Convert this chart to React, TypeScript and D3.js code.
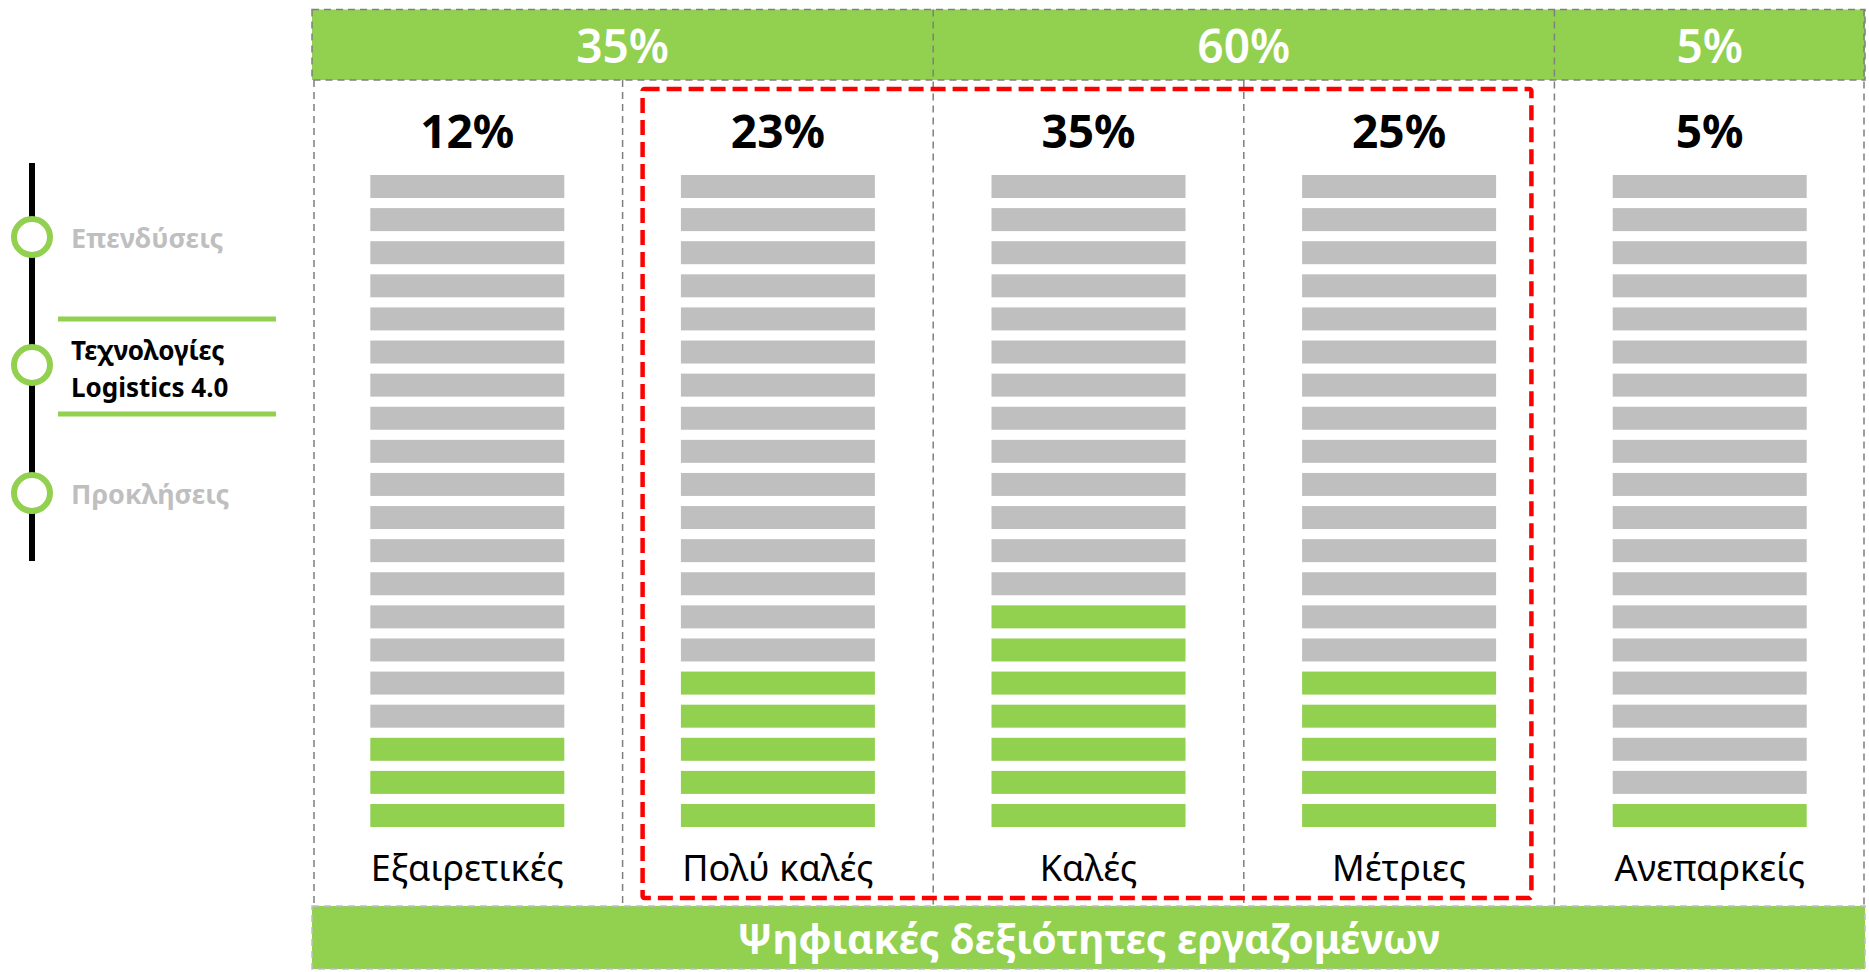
import React from 'react';
import * as d3 from 'd3';

// chart data
const categories = ['Εξαιρετικές', 'Πολύ καλές', 'Καλές', 'Μέτριες', 'Ανεπαρκείς'];
const percentages = [12, 23, 35, 25, 5];
const greenBars = [3, 5, 7, 5, 1];
const totalBars = 20;

const groupLabels = ['35%', '60%', '5%'];
const groupSpans = [2, 2, 1];

const timelineItems = ['Επενδύσεις', 'Τεχνολογίες|Logistics 4.0', 'Προκλήσεις'];
const activeItem = 1;

const bottomTitle = 'Ψηφιακές δεξιότητες εργαζομένων';

const GREEN = '#92D050';
const GREY_BAR = '#BFBFBF';
const DASH_GREY = '#7F7F7F';
const FONT = '"Noto Sans", "Open Sans", sans-serif';

const W = 1869;
const H = 972;

const App = () => {
  const left = 312;
  const right = 1865;
  const topBannerY = 9.5;
  const topBannerH = 70.5;
  const colTop = topBannerY + topBannerH;
  const bottomBannerY = 906;
  const bottomBannerH = 63;

  const x = d3.scaleBand<string>().domain(categories).range([left, right]);
  const bw = x.bandwidth();
  const barW = 194;
  const barH = 23;
  const rows = d3.range(totalBars);
  const y = d3.scaleLinear().domain([0, totalBars - 1]).range([175, 804]);

  // group boundaries from cumulative spans
  const groupStarts = groupSpans.map((_, i) => d3.sum(groupSpans.slice(0, i)));

  const tl = d3.scaleLinear().domain([0, timelineItems.length - 1]).range([237, 493]);

  const redX0 = (x(categories[1]) as number) + 20;
  const redX1 = (x(categories[3]) as number) + bw - 23;

  return (
    <svg
      width={W}
      height={H}
      style={{ position: 'absolute', left: 0, top: 0, background: '#fff' }}
      fontFamily={FONT}
    >
      {/* top banner */}
      <rect x={left} y={topBannerY} width={right - left} height={topBannerH} fill={GREEN}
        stroke={DASH_GREY} strokeWidth={1.5} strokeDasharray="7,5" />
      {groupLabels.map((g, i) => {
        const x0 = x(categories[groupStarts[i]]) as number;
        const x1 = (x(categories[groupStarts[i] + groupSpans[i] - 1]) as number) + bw;
        return (
          <g key={g + i}>
            {i > 0 && (
              <line x1={x0} x2={x0} y1={topBannerY} y2={bottomBannerY} stroke={DASH_GREY}
                strokeWidth={1.5} strokeDasharray="7,5" />
            )}
            <text x={(x0 + x1) / 2} y={63} textAnchor="middle" fill="#fff" fontSize={46}
              fontWeight={600}>{g}</text>
          </g>
        );
      })}

      {/* column separators */}
      {categories.map((c, i) => {
        const cx = x(c) as number;
        if (groupStarts.includes(i) && i > 0) return null;
        return (
          <line key={'sep' + c} x1={cx + (i === 0 ? 2 : 0)} x2={cx + (i === 0 ? 2 : 0)}
            y1={colTop} y2={bottomBannerY} stroke={DASH_GREY}
            strokeWidth={1.5} strokeDasharray="7,5" />
        );
      })}
      <line x1={right - 1} x2={right - 1} y1={topBannerY} y2={bottomBannerY} stroke={DASH_GREY}
        strokeWidth={1.5} strokeDasharray="7,5" />

      {/* columns */}
      {categories.map((c, i) => {
        const cx = (x(c) as number) + bw / 2;
        return (
          <g key={c}>
            <text x={cx} y={148} textAnchor="middle" fontSize={46} fontWeight="bold" fill="#000">
              {percentages[i]}%
            </text>
            {rows.map((r) => (
              <rect key={r} x={cx - barW / 2} y={y(r)} width={barW} height={barH}
                fill={r >= totalBars - greenBars[i] ? GREEN : GREY_BAR} />
            ))}
            <text x={cx} y={881} textAnchor="middle" fontSize={36} fill="#000">{c}</text>
          </g>
        );
      })}

      {/* highlight box */}
      <rect x={redX0} y={89} width={redX1 - redX0} height={898 - 89} fill="none"
        stroke="#FF0000" strokeWidth={4.5} strokeDasharray="15,7" rx={2} />

      {/* bottom banner */}
      <rect x={left} y={bottomBannerY} width={right - left} height={bottomBannerH} fill={GREEN}
        stroke={GREY_BAR} strokeWidth={1.5} strokeDasharray="7,5" />
      <text x={(left + right) / 2} y={954} textAnchor="middle" fill="#fff" fontSize={40.5}
        fontWeight="bold">{bottomTitle}</text>

      {/* timeline */}
      <line x1={32} x2={32} y1={163} y2={561} stroke="#000" strokeWidth={6} />
      <line x1={58} x2={276} y1={319} y2={319} stroke={GREEN} strokeWidth={5} />
      <line x1={58} x2={276} y1={414} y2={414} stroke={GREEN} strokeWidth={5} />
      {timelineItems.map((t, i) => {
        const cy = tl(i);
        const lines = t.split('|');
        const active = i === activeItem;
        return (
          <g key={t}>
            <circle cx={32} cy={cy} r={18} fill="#fff" stroke={GREEN} strokeWidth={6} />
            {lines.map((ln, j) => (
              <text key={ln} x={71} y={active ? cy - 5 + j * 37 : cy + 11}
                fontSize={active ? 26 : 27} fontWeight="bold" fill={active ? '#000' : GREY_BAR}>{ln}</text>
            ))}
          </g>
        );
      })}
    </svg>
  );
};

export default App;
